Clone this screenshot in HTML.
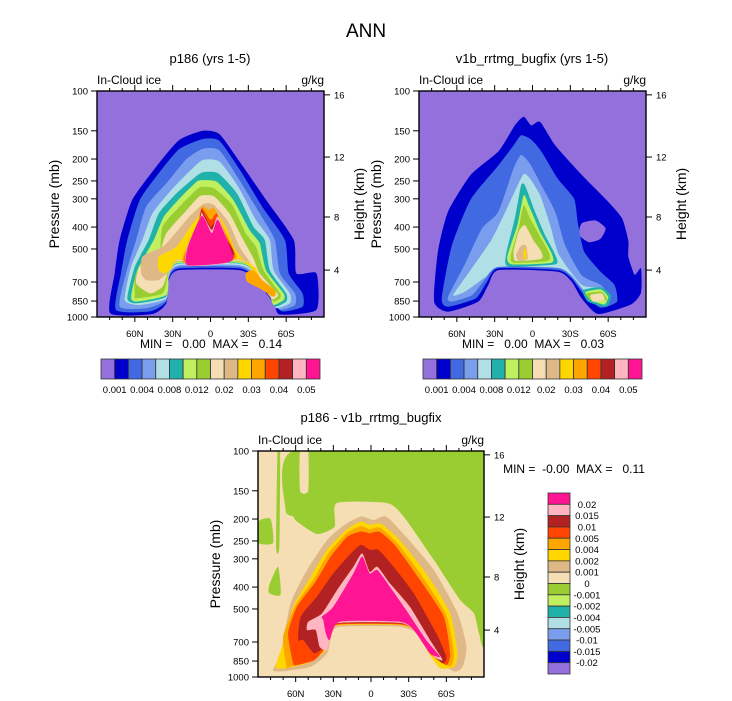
<!DOCTYPE html>
<html><head><meta charset="utf-8"><style>
html,body{margin:0;padding:0;background:#fff;}
svg{display:block;font-family:"Liberation Sans",sans-serif;}
</style></head><body>
<svg id="chart" width="732" height="701" viewBox="0 0 732 701">
<rect x="0" y="0" width="732" height="701" fill="#fff"/>
<text x="366" y="37" font-size="19" text-anchor="middle">ANN</text>
<text x="210" y="63" font-size="13" text-anchor="middle">p186 (yrs 1-5)</text>
<text x="532" y="63" font-size="13" text-anchor="middle">v1b_rrtmg_bugfix (yrs 1-5)</text>
<text x="371" y="422" font-size="13" text-anchor="middle">p186 - v1b_rrtmg_bugfix</text>
<text x="97" y="84" font-size="12">In-Cloud ice</text>
<text x="324" y="84" font-size="12" text-anchor="end">g/kg</text>
<text x="419" y="84" font-size="12">In-Cloud ice</text>
<text x="646" y="84" font-size="12" text-anchor="end">g/kg</text>
<text x="258" y="444" font-size="12">In-Cloud ice</text>
<text x="484" y="444" font-size="12" text-anchor="end">g/kg</text>
<text x="211" y="348" font-size="12" text-anchor="middle" xml:space="preserve">MIN =   0.00  MAX =   0.14</text>
<text x="533" y="348" font-size="12" text-anchor="middle" xml:space="preserve">MIN =   0.00  MAX =   0.03</text>
<text x="574" y="473" font-size="12" text-anchor="middle" xml:space="preserve">MIN =  -0.00  MAX =   0.11</text>
<g id="layer"></g>
</svg>
<script>
// ---------- data ----------
const palette = ['#9370DB','#0000CD','#4169E1','#7A9DEE','#B0E0E6','#20B2AA','#C0F060','#9ACD32','#F5DEB3','#DEB887','#FFD700','#FFA500','#FF4500','#B22222','#FFB6C1','#FF1493'];
const absLevelLabels = ['0.001','0.004','0.008','0.012','0.02','0.03','0.04','0.05'];
const diffLevelLabels = ['0.02','0.015','0.01','0.005','0.004','0.002','0.001','0','-0.001','-0.002','-0.004','-0.005','-0.01','-0.015','-0.02'];
const pressureTicks = [100,150,200,250,300,400,500,700,850,1000];
const latTicks = [60,30,0,-30,-60];
const latTickLabels = ['60N','30N','0','30S','60S'];
const latMinorTicks = [80,70,50,40,20,10,-10,-20,-40,-50,-70,-80];
const heightTickPressures = [104,196,361,620];
const heightTickLabels = ['16','12','8','4'];

// panel A: p186 contour bands [lat, pressure]
const aColors = [1,2,3,4,5,6,7,8,9,10,11,11,12,13,14,15];
const aShapes = [
 [[79.5,963],[76,641],[72,456],[62,303],[43,216],[25,165],[6,150],[-7,155],[-23,205],[-44,303],[-66,456],[-68,641],[-84,641],[-84,930],[-55,975],[-50,870],[-36,686],[-23,620],[25,620],[33,686],[35,870],[46,970]],
 [[75,930],[71,641],[66,456],[56,303],[41,231],[25,181],[6,163],[-7,166],[-23,222],[-41,325],[-59,456],[-62,641],[-73,786],[-73,900],[-57,945],[-50,855],[-36,675],[-23,610],[25,610],[33,675],[35,855],[48,945]],
 [[72,900],[67,641],[59,456],[51,325],[35,256],[19,200],[6,180],[-7,183],[-23,248],[-39,348],[-51,456],[-55,641],[-67,786],[-67,885],[-55,930],[-50,841],[-36,663],[-23,599],[25,599],[33,663],[35,841],[51,915]],
 [[68,841],[63,599],[54,456],[46,348],[31,274],[15,222],[6,202],[-7,205],[-22,265],[-36,372],[-47,456],[-50,620],[-63,786],[-63,870],[-52,915],[-49,827],[-36,652],[-23,590],[25,590],[33,652],[35,827],[56,885]],
 [[66,827],[60,599],[49,456],[41,348],[27,284],[12,240],[6,229],[-6,231],[-21,284],[-34,398],[-43,456],[-47,620],[-60,786],[-60,855],[-51,900],[-47,813],[-36,641],[-23,580],[25,580],[33,641],[35,813],[59,870]],
 [[63,813],[58,620],[45,456],[37,360],[23,293],[11,252],[6,248],[-5,252],[-18,303],[-31,412],[-39,472],[-44,620],[-58,786],[-58,841],[-50,885],[-47,799],[-36,636],[-23,576],[25,576],[33,636],[35,799],[59,855]],
 [[60,799],[59,641],[41,541],[38,398],[22,314],[10,270],[6,265],[-3,270],[-17,318],[-28,426],[-36,489],[-42,620],[-55,786],[-55,827],[-50,855],[-46,786],[-36,630],[-23,570],[25,570],[33,630],[38,786],[59,827]],
 [[59,710],[56,599],[41,523],[35,426],[19,337],[9,293],[5,289],[-3,293],[-15,348],[-26,456],[-34,549],[-39,641],[-53,786],[-53,813],[-49,835],[-44,760],[-36,620],[-23,565],[25,565],[33,620],[38,734],[48,786]],
 [[55,641],[54,541],[38,489],[30,440],[17,360],[7,320],[3,314],[-3,320],[-14,378],[-23,489],[-31,570],[-36,652],[-50,760],[-52,799],[-47,813],[-43,747],[-36,616],[-23,560],[25,560],[31,616],[41,686],[51,686]],
 [[41,620],[41,541],[27,489],[14,385],[7,348],[1,342],[-5,348],[-12,398],[-20,506],[-31,599],[-39,675],[-50,760],[-52,786],[-47,799],[-41,734],[-36,612],[-23,556],[25,556],[31,612],[36,641]],
 [[-28,641],[-34,620],[-41,686],[-51,760],[-50,813],[-39,747],[-29,698]],
 [[22,541],[11,398],[7,325],[1,336],[-3,330],[-10,398],[-20,523],[-18,560],[19,580]],
 [[20,523],[10,398],[7,330],[0,372],[-5,348],[-10,412],[-19,523],[-15,560],[18,585]],
 [[19,506],[9,372],[7,336],[0,398],[-5,372],[-11,440],[-18,532],[18,590]],
 [[19,500],[8,360],[7,345],[-1,412],[-6,360],[-17,530],[-12,580],[18,592]],
 [[18,489],[7,357],[-1,426],[-6,372],[-18,541],[-12,576],[18,590]]
];

// panel B: v1b_rrtmg_bugfix contour bands
const bColors = [1,0,2,3,4,5,6,7,8,9,10,5,6,7,8];
const bShapes = [
 [[78,855],[75,514],[67,342],[49,235],[27,185],[14,142],[7,130],[1,142],[-6,137],[-18,174],[-39,235],[-60,309],[-71,366],[-76,460],[-76,540],[-81,650],[-86,609],[-86,780],[-78,880],[-52,970],[-39,827],[-31,697],[-20,630],[27,620],[35,721],[43,855],[67,947]],
 [[-39,385],[-50,374],[-58,405],[-54,451],[-45,467],[-37,434]],
 [[72,827],[64,483],[49,302],[29,220],[15,174],[9,157],[1,164],[-7,185],[-20,244],[-33,300],[-36,385],[-41,514],[-54,630],[-65,721],[-67,855],[-54,910],[-41,800],[-31,675],[-20,620],[27,609],[36,697],[45,827],[67,900]],
 [[67,813],[54,590],[40,405],[27,342],[15,220],[9,192],[2,210],[-7,261],[-18,342],[-26,483],[-39,654],[-54,721],[-62,827],[-54,870],[-41,775],[-31,664],[-20,609],[27,600],[37,675],[48,800],[64,855]],
 [[63,800],[50,630],[33,460],[24,366],[14,278],[7,233],[2,244],[-6,289],[-14,392],[-21,530],[-39,721],[-54,745],[-60,827],[-54,855],[-41,762],[-31,654],[-20,605],[27,600],[37,664],[54,775]],
 [[21,530],[14,366],[9,261],[6,261],[2,298],[-2,342],[-10,434],[-18,530],[-18,585],[19,596]],
 [[20,541],[12,392],[7,289],[3,320],[-1,360],[-6,420],[-15,520],[-15,575],[16,585]],
 [[17,530],[11,405],[7,320],[2,366],[-4,420],[-13,520],[-12,565],[15,575]],
 [[15,514],[11,420],[6,392],[-1,460],[-7,514],[-7,553],[13,565]],
 [[13,530],[9,483],[5,483],[4,553],[11,565]],
 [[7,505],[5,505],[5,553],[7,553]],
 [[-40,762],[-54,738],[-62,800],[-59,900],[-44,855]],
 [[-42,775],[-54,755],[-60,813],[-57,880],[-46,840]],
 [[-43,787],[-55,775],[-59,840],[-46,840]],
 [[-46,800],[-55,787],[-57,840],[-48,855]]
];

// panel C: difference contour bands
const cColors = [7,8,7,7,7,9,10,11,12,13,14,15];
const cShapes = [
 [[61.8,100],[-90,100],[-90,686],[-86,641],[-82,523],[-71,456],[-50,303],[-26,195],[-13,170],[27.3,170],[29,216],[43,233],[59,205],[62,195],[68,182]],
 [[56.5,100],[50,100],[50,150],[56.5,150]],
 [[89.6,205],[80,200],[78,255],[89.6,255]],
 [[74.5,100],[72.4,100],[73,265],[75.6,265]],
 [[81,392],[74,325],[72,433],[81,426]],
 [[78,930],[72,786],[64,472],[51,336],[35,248],[21,212],[8,195],[-2,202],[-12,195],[-28,240],[-50,336],[-69,523],[-76,734],[-73,900],[-66,945],[-50,813],[-36,641],[-23,599],[25,599],[31,641],[35,786],[48,900],[72,945]],
 [[76,900],[69,686],[62,489],[48,360],[35,274],[19,222],[8,205],[1,212],[-8,210],[-23,248],[-44,348],[-63,523],[-69,786],[-66,900],[-55,915],[-47,799],[-36,630],[-23,590],[25,590],[33,630],[36,760],[51,870],[69,915]],
 [[67,915],[70,663],[60,480],[46,372],[34,284],[19,230],[8,215],[1,222],[-7,218],[-21,256],[-41,360],[-60,532],[-66,786],[-63,900],[-47,792],[-36,627],[-23,587],[25,587],[33,624],[36,747],[48,855],[64,900]],
 [[62,870],[66,641],[59,489],[45,385],[32,293],[19,240],[8,227],[1,231],[-7,228],[-20,265],[-39,372],[-58,541],[-63,786],[-60,885],[-47,786],[-36,624],[-23,585],[25,585],[34,620],[36,734],[45,841],[59,885]],
 [[58,686],[56,541],[43,440],[30,348],[16,284],[8,260],[1,274],[-6,274],[-18,325],[-34,426],[-52,641],[-60,813],[-57,870],[-47,773],[-36,620],[-23,580],[25,580],[34,620],[36,720],[45,786],[54,686]],
 [[51,620],[50,570],[39,523],[27,412],[14,325],[7,284],[1,342],[-5,325],[-15,385],[-31,489],[-47,686],[-57,841],[-50,813],[-44,734],[-34,620],[-23,576],[25,576],[31,620],[35,760],[41,734],[44,620]],
 [[39,541],[30,489],[14,348],[7,293],[1,348],[-5,336],[-15,398],[-28,506],[-44,686],[-55,813],[-47,786],[-34,620],[-23,570],[25,570],[33,686],[36,641],[38,560]]
];

// ---------- drawing ----------
const NS='http://www.w3.org/2000/svg';
const layer=document.getElementById('layer');
function mk(tag,attrs,parent){const e=document.createElementNS(NS,tag);for(const k in attrs)e.setAttribute(k,attrs[k]);(parent||layer).appendChild(e);return e;}
function xScale(f,lat){return f.x0+(90-lat)/180*(f.x1-f.x0);}
function yScale(f,p){return f.y0+(Math.log10(p)-2)*(f.y1-f.y0);}
function smoothPath(pts){
  const n=pts.length;let d='M'+pts[0][0].toFixed(1)+','+pts[0][1].toFixed(1);
  for(let i=0;i<n;i++){
    const p0=pts[(i-1+n)%n],p1=pts[i],p2=pts[(i+1)%n],p3=pts[(i+2)%n];
    const t=0.1;
    const c1=[p1[0]+(p2[0]-p0[0])*t,p1[1]+(p2[1]-p0[1])*t];
    const c2=[p2[0]-(p3[0]-p1[0])*t,p2[1]-(p3[1]-p1[1])*t];
    d+='C'+c1[0].toFixed(1)+','+c1[1].toFixed(1)+' '+c2[0].toFixed(1)+','+c2[1].toFixed(1)+' '+p2[0].toFixed(1)+','+p2[1].toFixed(1);
  }
  return d+'Z';
}
function panel(id,f,bg,shapes,colors){
  const g=mk('g',{});
  
  
  const cp=mk('clipPath',{id:id+'-clip'},g);
  mk('rect',{x:f.x0,y:f.y0,width:f.x1-f.x0,height:f.y1-f.y0},cp);
  const bgr=mk('rect',{x:f.x0,y:f.y0,width:f.x1-f.x0,height:f.y1-f.y0,fill:palette[bg]},g);
  
  
  const cg=mk('g',{'clip-path':'url(#'+id+'-clip)'},g);
  shapes.forEach((s,i)=>{
    const pts=s.map(q=>[xScale(f,q[0]),yScale(f,q[1])]);
    const el=mk('path',{d:smoothPath(pts),fill:palette[colors[i]]},cg);
    
    
  });
  const fr=mk('rect',{x:f.x0,y:f.y0,width:f.x1-f.x0,height:f.y1-f.y0,fill:'none',stroke:'#000','stroke-width':1.4},g);
  
  
  pressureTicks.forEach(p=>{
    const y=yScale(f,p);
    mk('line',{x1:f.x0-6,x2:f.x0,y1:y,y2:y,stroke:'#000','stroke-width':1},g);
    const t=mk('text',{x:f.x0-9,y:y+3.5,'font-size':9.5,'text-anchor':'end'},g);
    t.textContent=p;
    
    
  });
  latTicks.forEach((l,i)=>{
    const x=xScale(f,l);
    mk('line',{x1:x,x2:x,y1:f.y0-6,y2:f.y0,stroke:'#000','stroke-width':1},g);
    mk('line',{x1:x,x2:x,y1:f.y1,y2:f.y1+5,stroke:'#000','stroke-width':1},g);
    const t=mk('text',{x:x,y:f.y1+20,'font-size':9.5,'text-anchor':'middle'},g);
    t.textContent=latTickLabels[i];
    
    
  });
  latMinorTicks.forEach(l=>{
    const x=xScale(f,l);
    mk('line',{x1:x,x2:x,y1:f.y0-3,y2:f.y0,stroke:'#000','stroke-width':1},g);
    mk('line',{x1:x,x2:x,y1:f.y1,y2:f.y1+3,stroke:'#000','stroke-width':1},g);
  });
  heightTickPressures.forEach((p,i)=>{
    const y=yScale(f,p);
    mk('line',{x1:f.x1,x2:f.x1+6,y1:y,y2:y,stroke:'#000','stroke-width':1},g);
    const t=mk('text',{x:f.x1+10,y:y+3.5,'font-size':9.5},g);
    t.textContent=heightTickLabels[i];
    
    
  });
  const cy=(f.y0+f.y1)/2;
  const yl=mk('text',{x:0,y:0,'font-size':14,'text-anchor':'middle',transform:'translate('+(f.x0-38)+','+cy+') rotate(-90)'},g);
  yl.textContent='Pressure (mb)';
  
  
  const hl=mk('text',{x:0,y:0,'font-size':14,'text-anchor':'middle',transform:'translate('+(f.x1+40)+','+cy+') rotate(-90)'},g);
  hl.textContent='Height (km)';
  
  
}
function hColorbar(id,x0,x1,y0,y1){
  const g=mk('g',{});
  
  
  const w=(x1-x0)/palette.length;
  palette.forEach((c,i)=>{mk('rect',{x:x0+i*w,y:y0,width:w,height:y1-y0,fill:c,stroke:'#333','stroke-width':0.8},g);});
  absLevelLabels.forEach((lab,i)=>{
    const t=mk('text',{x:x0+(2*i+1)*w,y:y1+14,'font-size':9.5,'text-anchor':'middle'},g);
    t.textContent=lab;
    
    
  });
}
function vColorbar(id,x0,x1,y0,y1){
  const g=mk('g',{});
  
  
  const n=palette.length,h=(y1-y0)/n;
  for(let i=0;i<n;i++){mk('rect',{x:x0,y:y0+i*h,width:x1-x0,height:h,fill:palette[n-1-i],stroke:'#333','stroke-width':0.8},g);}
  diffLevelLabels.forEach((lab,i)=>{
    const t=mk('text',{x:587,y:y0+(i+1)*h+3.5,'font-size':9.5,'text-anchor':'middle'},g);
    t.textContent=lab;
    
    
  });
}
panel('panel-a',{x0:97,x1:324,y0:91,y1:317},0,aShapes,aColors);
panel('panel-b',{x0:419,x1:646,y0:91,y1:317},0,bShapes,bColors);
panel('panel-c',{x0:258,x1:484,y0:451,y1:677},8,cShapes,cColors);
hColorbar('panel-a-colorbar',101,320,359,379);
hColorbar('panel-b-colorbar',423,642,359,379);
vColorbar('panel-c-colorbar',548,570,493,674);
</script>
</body></html>
